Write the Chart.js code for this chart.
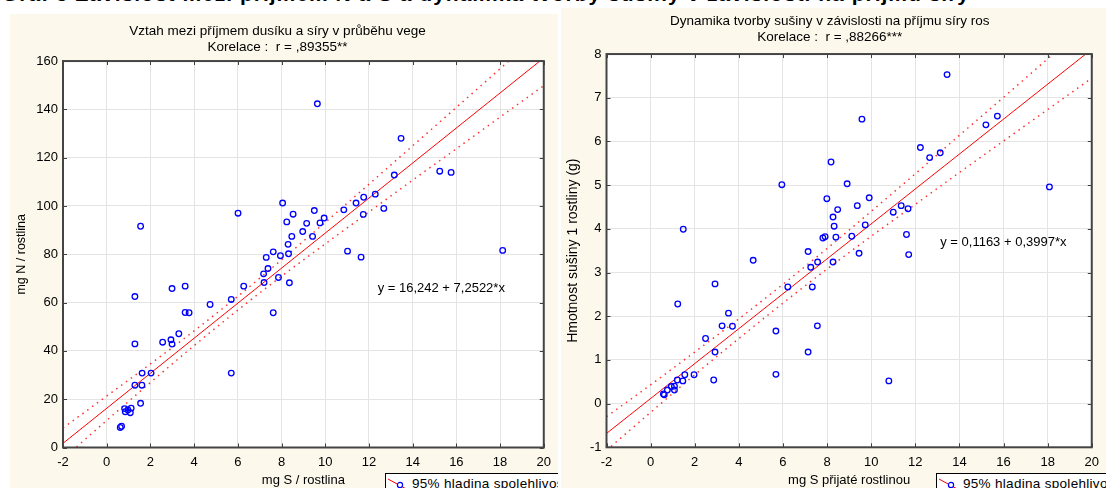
<!DOCTYPE html>
<html lang="cs">
<head>
<meta charset="UTF-8">
<title>Vztah příjmu síry, dusíku a sušiny</title>
<script src="https://cdn.jsdelivr.net/npm/chart.js"></script>
<style>
body {
    margin: 0;
    padding: 0;
    width: 1106px;
    height: 488px;
    overflow: hidden;
    background: #ffffff;
    font-family: "Liberation Sans", Arial, sans-serif;
    position: relative;
}
.heading {
    position: absolute;
    left: 2px;
    top: -16px;
    font-size: 21px;
    line-height: 20px;
    font-weight: bold;
    letter-spacing: 1px;
    white-space: nowrap;
    color: #000;
}
.panel {
    position: absolute;
    background: #fdf8ec;
    overflow: hidden;
}
#panelLeft { left: 10px; top: 14px; width: 548px; height: 474px; }
#panelRight { left: 561px; top: 8px; width: 545px; height: 480px; }
.panel canvas { position: absolute; left: 0; top: 0; }
.legendBox {
    position: absolute;
    background: #fff;
    border: 1px solid #000;
    height: 30px;
    width: 240px;
    font-size: 13.5px;
    letter-spacing: 0.3px;
    white-space: nowrap;
}
.legendBox svg { position: absolute; left: 1px; top: 4px; }
.legendBox span { position: absolute; left: 26px; top: 2px; }
</style>
</head>
<body>

<div class="heading">Graf 5  Závislost mezi příjmem N a S a dynamika tvorby sušiny v závislosti na příjmu síry</div>

<div class="panel" id="panelLeft">
    <canvas id="chartLeft" width="548" height="474"></canvas>
    <div class="legendBox" style="left:375px; top:459px;">
        <svg width="24" height="14"><line x1="1" y1="1" x2="23" y2="13" stroke="#ff0000" stroke-width="1"/><circle cx="13" cy="7" r="2.6" fill="#fff" stroke="#0000ff" stroke-width="1.2"/></svg>
        <span>95% hladina spolehlivosti</span>
    </div>
</div>

<div class="panel" id="panelRight">
    <canvas id="chartRight" width="545" height="480"></canvas>
    <div class="legendBox" style="left:375px; top:465px;">
        <svg width="24" height="14"><line x1="1" y1="1" x2="23" y2="13" stroke="#ff0000" stroke-width="1"/><circle cx="13" cy="7" r="2.6" fill="#fff" stroke="#0000ff" stroke-width="1.2"/></svg>
        <span>95% hladina spolehlivosti</span>
    </div>
</div>

<script>
// --- levý graf: mg S / rostlina vs mg N / rostlina ---
const leftX = [0.62, 0.68, 0.82, 1.12, 0.85, 1.08, 0.97, 1.55, 1.29, 1.61, 1.62, 2.03, 5.70, 1.29, 2.56, 2.94, 2.99, 3.30,
    4.73, 5.70, 3.59, 3.77, 7.62, 1.29, 2.99, 3.59, 6.27, 7.20, 8.36, 7.86, 7.18, 7.38, 7.30, 7.95, 7.62, 8.32, 8.30,
    8.47, 8.97, 9.42, 8.24, 9.15, 9.76, 9.95, 9.50, 8.53, 8.05, 6.01, 1.55, 10.85, 11.74, 11.41, 11.76, 12.29, 12.68,
    11.02, 11.64, 13.16, 15.24, 15.76, 13.47, 9.64, 18.12];
const leftY = [8.3, 8.8, 16.1, 16.3, 14.8, 14.4, 15.5, 18.3, 25.8, 25.8, 30.8, 30.8, 30.8, 42.9, 43.6, 44.6, 42.8, 47.1,
    59.2, 61.3, 55.9, 55.8, 55.8, 62.5, 65.8, 66.8, 66.8, 68.3, 68.2, 70.4, 71.9, 74.1, 78.7, 79.4, 81.0, 80.2, 84.1,
    87.4, 89.4, 87.4, 93.4, 92.8, 93.0, 95.0, 98.1, 96.6, 101.2, 97.0, 91.6, 98.4, 96.5, 101.2, 103.6, 104.9, 99.0,
    81.3, 78.8, 112.8, 114.4, 113.9, 128.0, 142.3, 81.6];
const leftFitX = [-2, 20];
const leftFitY = [1.74, 161.29];
const leftBandX = [-2, 0, 2, 4, 6, 8, 10, 12, 14, 16, 18, 20];
const leftBandUp = [8.1, 21.3, 34.6, 48.3, 62.6, 77.7, 93.2, 109.0, 124.9, 140.8, 156.8, 172.8];
const leftBandLo = [-4.7, 11.2, 26.9, 42.2, 56.9, 70.9, 84.3, 97.5, 110.7, 123.7, 136.8, 149.8];

// --- pravý graf: mg S přijaté rostlinou vs hmotnost sušiny ---
const rightX = [0.58, 0.62, 0.76, 1.08, 0.94, 1.08, 1.21, 1.46, 1.55, 1.97, 2.86, 5.68, 10.80, 2.92, 7.14, 2.49, 3.24,
    3.71, 5.68, 7.56, 3.53, 1.23, 2.92, 6.22, 7.33, 7.26, 7.57, 8.27, 4.65, 7.14, 9.45, 11.70, 7.81, 7.91, 8.40, 9.12,
    11.60, 8.32, 9.73, 8.27, 8.48, 9.37, 11.00, 11.36, 11.67, 7.99, 9.91, 1.48, 5.95, 8.91, 18.08, 8.18, 12.23, 12.65,
    13.13, 15.20, 15.72, 9.58, 13.44];
const rightY = [0.22, 0.20, 0.31, 0.31, 0.39, 0.40, 0.54, 0.52, 0.66, 0.66, 0.54, 0.67, 0.52, 1.18, 1.18, 1.49, 1.78,
    1.77, 1.66, 1.78, 2.07, 2.28, 2.74, 2.67, 2.67, 3.12, 3.24, 3.24, 3.28, 3.48, 3.44, 3.41, 3.79, 3.82, 3.81, 3.83,
    3.87, 4.06, 4.09, 4.27, 4.44, 4.53, 4.38, 4.53, 4.46, 4.69, 4.71, 3.99, 5.01, 5.03, 4.96, 5.53, 5.86, 5.63,
    5.74, 6.38, 6.58, 6.51, 7.53];
const rightFitX = [-2, 20];
const rightFitY = [-0.683, 8.11];
const rightBandX = [-2, 0, 2, 4, 6, 8, 10, 12, 14, 16, 18, 20];
const rightBandUp = [-0.30, 0.43, 1.18, 1.94, 2.73, 3.55, 4.40, 5.26, 6.14, 7.01, 7.89, 8.77];
const rightBandLo = [-1.07, -0.20, 0.66, 1.49, 2.30, 3.08, 3.83, 4.56, 5.29, 6.01, 6.73, 7.45];

const xTicks = [-2, 0, 2, 4, 6, 8, 10, 12, 14, 16, 18, 20];

function pairs(xs, ys) {
    return xs.map((x, i) => ({ x: x, y: ys[i] }));
}

// bílá plocha grafu, rámeček s vnitřními značkami a rovnice regrese
const framePlugin = {
    id: "frame",
    beforeDraw(chart) {
        const a = chart.chartArea, ctx = chart.ctx;
        ctx.save();
        ctx.fillStyle = "#ffffff";
        ctx.fillRect(a.left, a.top, a.right - a.left, a.bottom - a.top);
        ctx.restore();
    },
    afterDraw(chart, args, opts) {
        const a = chart.chartArea, ctx = chart.ctx;
        const xs = chart.scales.x, ys = chart.scales.y;
        ctx.save();
        ctx.strokeStyle = "#3f3f3f";
        ctx.lineWidth = 1;
        ctx.beginPath();
        xs.ticks.forEach(t => {
            const px = Math.round(xs.getPixelForValue(t.value)) + 0.5;
            ctx.moveTo(px, a.top); ctx.lineTo(px, a.top + 4);
            ctx.moveTo(px, a.bottom); ctx.lineTo(px, a.bottom - 4);
        });
        ys.ticks.forEach(t => {
            const py = Math.round(ys.getPixelForValue(t.value)) + 0.5;
            ctx.moveTo(a.left, py); ctx.lineTo(a.left + 4, py);
            ctx.moveTo(a.right, py); ctx.lineTo(a.right - 4, py);
        });
        ctx.stroke();
        ctx.lineWidth = 2;
        ctx.strokeStyle = "#444";
        ctx.strokeRect(a.left, a.top, a.right - a.left, a.bottom - a.top);
        if (opts.text) {
            ctx.fillStyle = "#000";
            ctx.font = "13px 'Liberation Sans', Arial";
            ctx.textBaseline = "middle";
            ctx.fillText(opts.text, xs.getPixelForValue(opts.x), ys.getPixelForValue(opts.y));
        }
        ctx.restore();
    }
};

function makeChart(id, s) {
    new Chart(document.getElementById(id), {
        type: "scatter",
        plugins: [framePlugin],
        data: {
            datasets: [
                { data: pairs(s.x, s.y), borderColor: "#0000ff", backgroundColor: "rgba(0,0,0,0)",
                  pointRadius: 2.8, borderWidth: 1.3, order: 1 },
                { data: pairs(s.fitX, s.fitY), showLine: true, borderColor: "#ff0000", borderWidth: 1,
                  pointRadius: 0, order: 2 },
                { data: pairs(s.bandX, s.bandUp), showLine: true, borderColor: "#ff3030", borderWidth: 1.5,
                  borderDash: [1.5, 4.5], pointRadius: 0, cubicInterpolationMode: "monotone", order: 3 },
                { data: pairs(s.bandX, s.bandLo), showLine: true, borderColor: "#ff3030", borderWidth: 1.5,
                  borderDash: [1.5, 4.5], pointRadius: 0, cubicInterpolationMode: "monotone", order: 3 }
            ]
        },
        options: {
            responsive: false,
            animation: false,
            layout: { padding: { left: 0, right: s.padRight, top: 0, bottom: 0 } },
            plugins: {
                legend: { display: false },
                tooltip: { enabled: false },
                title: {
                    display: true,
                    text: s.title,
                    color: "#000",
                    font: { family: "'Liberation Sans', Arial", size: 13.5, weight: "normal", lineHeight: 1.15 },
                    padding: { top: s.titleTop, bottom: s.titleBottom }
                },
                frame: s.eq
            },
            scales: {
                x: {
                    type: "linear",
                    min: -2, max: 20,
                    afterBuildTicks: sc => { sc.ticks = xTicks.map(v => ({ value: v })); },
                    afterFit: sc => { sc.height = s.xHeight; },
                    grid: { color: "#e4e4e4", drawTicks: false },
                    border: { display: false },
                    ticks: { color: "#000", padding: 7, font: { family: "'Liberation Sans', Arial", size: 13 } },
                    title: { display: true, text: s.xTitle, color: "#000", padding: { top: 0, bottom: 0 },
                             font: { family: "'Liberation Sans', Arial", size: 13 } }
                },
                y: {
                    type: "linear",
                    min: s.yMin, max: s.yMax,
                    afterBuildTicks: sc => { sc.ticks = s.yTicks.map(v => ({ value: v })); },
                    afterFit: sc => { sc.width = s.yWidth; },
                    grid: { color: "#e4e4e4", drawTicks: false },
                    border: { display: false },
                    ticks: { color: "#000", padding: 5, font: { family: "'Liberation Sans', Arial", size: 13 } },
                    title: { display: true, text: s.yTitle, color: "#000", padding: { top: 4, bottom: 0 },
                             font: { family: "'Liberation Sans', Arial", size: s.yTitleSize } }
                }
            }
        }
    });
}

makeChart("chartLeft", {
    x: leftX, y: leftY, fitX: leftFitX, fitY: leftFitY,
    bandX: leftBandX, bandUp: leftBandUp, bandLo: leftBandLo,
    title: ["Vztah mezi příjmem dusíku a síry v průběhu vege", "Korelace :  r = ,89355**"],
    xTitle: "mg S / rostlina", yTitle: "mg N / rostlina", yTitleSize: 12.5,
    yMin: 0, yMax: 160, yTicks: [0, 20, 40, 60, 80, 100, 120, 140, 160],
    eq: { text: "y = 16,242 + 7,2522*x", x: 12.4, y: 65.8 },
    padRight: 13, yWidth: 53, xHeight: 40.5, titleTop: 10, titleBottom: 6
});

makeChart("chartRight", {
    x: rightX, y: rightY, fitX: rightFitX, fitY: rightFitY,
    bandX: rightBandX, bandUp: rightBandUp, bandLo: rightBandLo,
    title: ["Dynamika tvorby sušiny v závislosti na příjmu síry ros", "Korelace :  r = ,88266***"],
    xTitle: "mg S přijaté rostlinou", yTitle: "Hmotnost sušiny 1 rostliny (g)", yTitleSize: 14,
    yMin: -1, yMax: 8, yTicks: [-1, 0, 1, 2, 3, 4, 5, 6, 7, 8],
    eq: { text: "y = 0,1163 + 0,3997*x", x: 13.13, y: 3.68 },
    padRight: 7.5, yWidth: 45.5, xHeight: 40.7, titleTop: 6, titleBottom: 9
});
</script>
</body>
</html>
